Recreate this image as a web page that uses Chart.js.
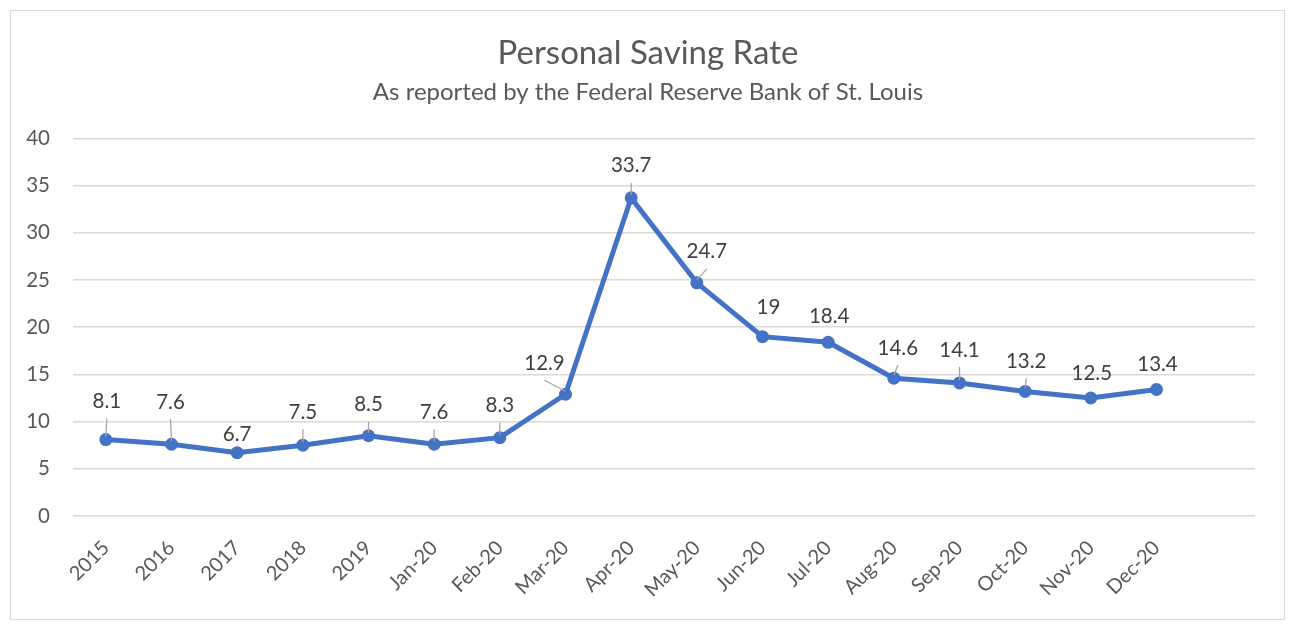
<!DOCTYPE html>
<html>
<head>
<meta charset="utf-8">
<script src="https://cdn.jsdelivr.net/npm/chart.js@4/dist/chart.umd.min.js"></script>
<style>
    html, body { margin: 0; padding: 0; background: #fff; }
    #frame { position: absolute; left: 10px; top: 10px; width: 1273px; height: 608px; border: 1.5px solid #d9d9d9; }
    #savingChart { position: absolute; left: 0; top: 0; }
</style>
</head>
<body>
<div id="frame"></div>
<canvas id="savingChart" width="1296" height="634"></canvas>
<script>
// Categories (last one is an empty slot, as in the original sheet)
var periods = ['2015', '2016', '2017', '2018', '2019', 'Jan-20', 'Feb-20', 'Mar-20', 'Apr-20',
    'May-20', 'Jun-20', 'Jul-20', 'Aug-20', 'Sep-20', 'Oct-20', 'Nov-20', 'Dec-20', ''];
var savingRate = [8.1, 7.6, 6.7, 7.5, 8.5, 7.6, 8.3, 12.9, 33.7, 24.7, 19, 18.4, 14.6, 14.1, 13.2, 12.5, 13.4, null];
var yTicks = [0, 5, 10, 15, 20, 25, 30, 35, 40];

// Data label placement relative to each point (px)
var labelDx = [1, -1, 0, 0, 0, 0, 0, -21, 0, 10, 6, 1, 4, 0, 1, 1, 1];
var labelDy = [-38, -42, -18, -33, -31, -32, -32, -31, -32, -31, -29, -26, -30, -33, -30, -25, -25];

var FONT = 'Lato, "Open Sans", sans-serif';
var lineColor = '#4472C4';

// Draws the value labels and their leader lines
var valueLabels = {
    id: 'valueLabels',
    afterDatasetsDraw: function(chart) {
        var ctx = chart.ctx;
        var meta = chart.getDatasetMeta(0);
        ctx.save();
        meta.data.forEach(function(pt, i) {
            var v = savingRate[i];
            if (v === null || v === undefined) return;
            var lx = pt.x + labelDx[i];
            var ly = pt.y + labelDy[i];
            if (Math.abs(labelDy[i]) >= 30) {
                ctx.strokeStyle = '#a6a6a6';
                ctx.lineWidth = 1.3;
                ctx.beginPath();
                ctx.moveTo(lx, ly + 17);
                ctx.lineTo(pt.x, pt.y - 3);
                ctx.stroke();
            }
            ctx.fillStyle = '#404040';
            ctx.font = '20.5px ' + FONT;
            ctx.textAlign = 'center';
            ctx.textBaseline = 'middle';
            ctx.fillText(String(v), lx, ly);
        });
        ctx.restore();
    }
};

var ctx = document.getElementById('savingChart').getContext('2d');
new Chart(ctx, {
    type: 'line',
    data: {
        labels: periods,
        datasets: [{
            data: savingRate,
            borderColor: lineColor,
            backgroundColor: lineColor,
            borderWidth: 5,
            pointRadius: 6.5,
            pointBorderWidth: 0,
            pointBackgroundColor: lineColor,
            tension: 0,
            spanGaps: false
        }]
    },
    options: {
        responsive: false,
        animation: false,
        layout: { padding: { left: 20, right: 20, top: 0, bottom: 18 } },
        plugins: {
            legend: { display: false },
            tooltip: { enabled: false },
            title: {
                display: true,
                text: 'Personal Saving Rate',
                color: '#595959',
                font: { family: FONT, size: 33, weight: 'normal' },
                padding: { top: 34, bottom: 0 }
            },
            subtitle: {
                display: true,
                text: 'As reported by the Federal Reserve Bank of St. Louis',
                color: '#595959',
                font: { family: FONT, size: 24, weight: 'normal' },
                padding: { top: 4, bottom: 32 }
            }
        },
        scales: {
            x: {
                offset: true,
                grid: { display: false, drawTicks: false },
                border: { display: false },
                ticks: {
                    autoSkip: false,
                    minRotation: 45,
                    maxRotation: 45,
                    padding: 20,
                    color: '#595959',
                    font: { family: FONT, size: 20 }
                },
                afterFit: function(scale) { scale.height = 100; }
            },
            y: {
                min: 0,
                max: 40,
                afterBuildTicks: function(scale) {
                    scale.ticks = yTicks.map(function(v) { return { value: v }; });
                },
                grid: { color: '#d9d9d9', lineWidth: 1.5, drawTicks: false },
                border: { display: false },
                ticks: {
                    padding: 23,
                    color: '#595959',
                    font: { family: FONT, size: 20.5 }
                },
                afterFit: function(scale) { scale.width = 53; }
            },
            // empty right-hand spacer so the plot ends where the original does
            yRight: {
                position: 'right',
                grid: { display: false, drawTicks: false },
                border: { display: false },
                ticks: { display: false },
                afterFit: function(scale) { scale.width = 21; }
            }
        }
    },
    plugins: [valueLabels]
});
</script>
</body>
</html>
